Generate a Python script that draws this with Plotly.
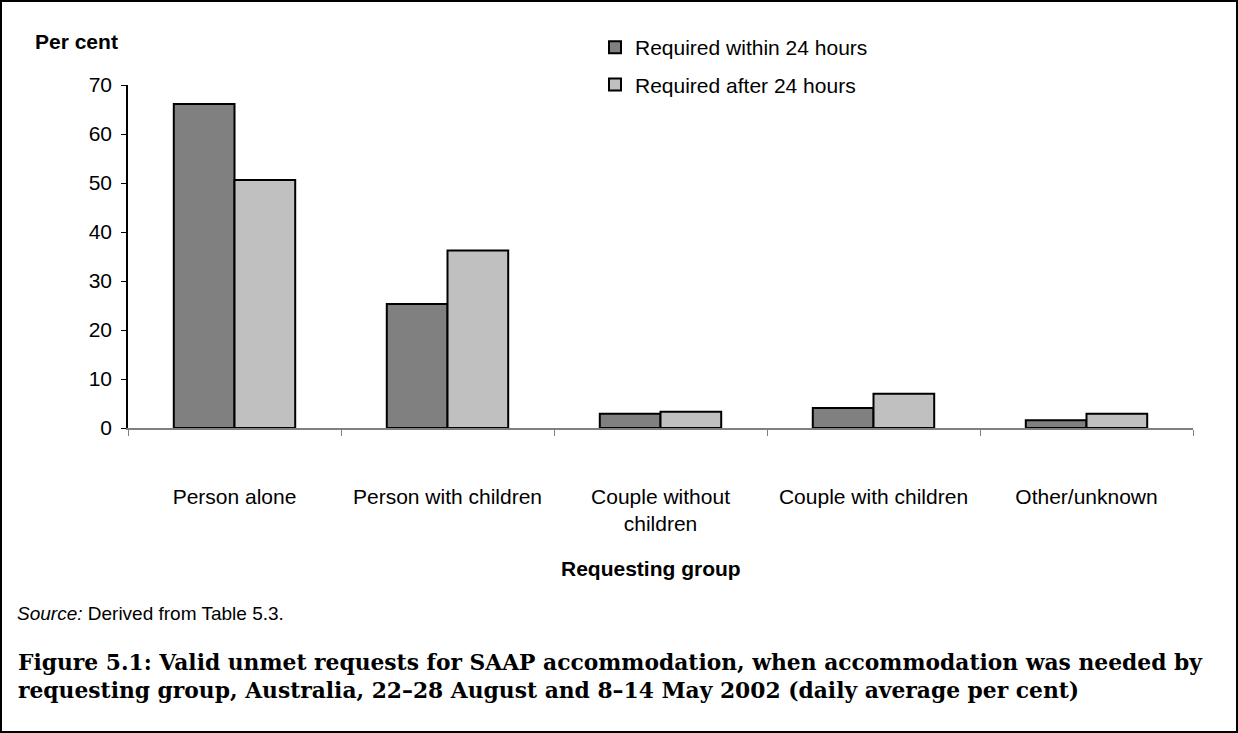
import plotly.graph_objects as go

categories = ["Person alone", "Person with children", "Couple without<br>children",
              "Couple with children", "Other/unknown"]
within_24 = [66.1, 25.3, 2.9, 4.1, 1.6]
after_24 = [50.6, 36.2, 3.3, 7.0, 2.9]
series_names = ["Required within 24 hours", "Required after 24 hours"]
y_ticks = [0, 10, 20, 30, 40, 50, 60, 70]

W, H = 1238, 733
L, R, T, B = 128, 45, 85, 305
pw, ph = W - L - R, H - T - B

def px_x(x):
    return (x - L) / pw

def px_y(y):
    return (H - B - y) / ph

font = "Liberation Sans, Arial, sans-serif"
serif = "DejaVu Serif, serif"

fig = go.Figure()
fig.add_trace(go.Bar(x=categories, y=within_24, name=series_names[0], legendgroup="a",
                     marker=dict(color="#808080", line=dict(color="black", width=2))))
fig.add_trace(go.Bar(x=categories, y=after_24, name=series_names[1], legendgroup="b",
                     marker=dict(color="#c0c0c0", line=dict(color="black", width=2))))

fig.update_layout(
    width=W, height=H,
    margin=dict(l=L, r=R, t=T, b=B),
    paper_bgcolor="white", plot_bgcolor="white",
    barmode="group", bargap=0.43, bargroupgap=0,
    font=dict(family=font, size=21, color="black"),
    showlegend=True,
    legend=dict(x=px_x(595), y=px_y(27), xanchor="left", yanchor="top",
                font=dict(size=21), tracegroupgap=7, bgcolor="rgba(0,0,0,0)",
                itemwidth=30),
    xaxis=dict(type="category", showline=True, linecolor="#808080", linewidth=1.5,
               ticks="outside", tickson="boundaries", ticklen=6, tickcolor="#808080",
               tickfont=dict(size=21), ticklabelstandoff=49, showgrid=False),
    yaxis=dict(range=[0, 70], tickvals=y_ticks, showline=True, linecolor="black",
               linewidth=1.5, ticks="outside", ticklen=5, tickcolor="black",
               tickfont=dict(size=21), ticklabelstandoff=5, showgrid=False, zeroline=False),
    annotations=[
        dict(text="<b>Per cent</b>", x=px_x(33), y=px_y(42), xref="paper", yref="paper",
             xanchor="left", yanchor="middle", showarrow=False, font=dict(size=21)),
        dict(text="<b>Requesting group</b>", x=px_x(651), y=px_y(568), xref="paper", yref="paper",
             xanchor="center", yanchor="middle", showarrow=False, font=dict(size=21)),
        dict(text="<i>Source:</i> Derived from Table 5.3.", x=px_x(15), y=px_y(613),
             xref="paper", yref="paper", xanchor="left", yanchor="middle",
             showarrow=False, font=dict(size=19)),
        dict(text="<b>Figure 5.1: Valid unmet requests for SAAP accommodation, when accommodation was needed by</b>",
             x=px_x(16), y=px_y(662), xref="paper", yref="paper", xanchor="left", yanchor="middle",
             showarrow=False, font=dict(size=21.8, family=serif)),
        dict(text="<b>requesting group, Australia, 22–28 August and 8–14 May 2002 (daily average per cent)</b>",
             x=px_x(16), y=px_y(690), xref="paper", yref="paper", xanchor="left", yanchor="middle",
             showarrow=False, font=dict(size=21.8, family=serif)),
    ],
    shapes=[dict(type="rect", xref="paper", yref="paper",
                 x0=px_x(1), x1=px_x(W - 1), y0=px_y(1), y1=px_y(H - 1),
                 line=dict(color="black", width=2), fillcolor="rgba(0,0,0,0)", layer="below")],
)

fig.write_html("out.html", config={"displayModeBar": False},
               post_script="document.body.style.margin='0';document.body.style.overflow='hidden';")
